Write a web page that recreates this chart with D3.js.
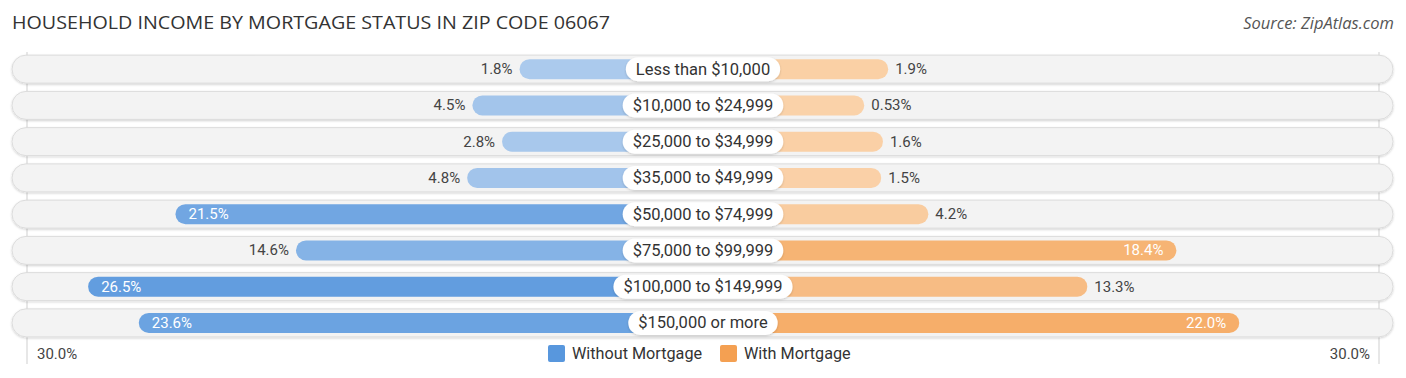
<!DOCTYPE html>
<html><head><meta charset="utf-8">
<script src="https://cdn.jsdelivr.net/npm/d3@7"></script>
<style>body{margin:0;background:#fff;} svg{display:block;}</style>
</head><body>
<svg id="chart" width="1406" height="378"></svg>
<script>
const categories = ["Less than $10,000","$10,000 to $24,999","$25,000 to $34,999","$35,000 to $49,999","$50,000 to $74,999","$75,000 to $99,999","$100,000 to $149,999","$150,000 or more"];
const withoutMortgage = [1.8, 4.5, 2.8, 4.8, 21.5, 14.6, 26.5, 23.6];
const withMortgage = [1.9, 0.53, 1.6, 1.5, 4.2, 18.4, 13.3, 22.0];
const withoutLabels = ["1.8%","4.5%","2.8%","4.8%","21.5%","14.6%","26.5%","23.6%"];
const withLabels = ["1.9%","0.53%","1.6%","1.5%","4.2%","18.4%","13.3%","22.0%"];
const axisLabels = ["30.0%","30.0%"];
const legendLabels = ["Without Mortgage","With Mortgage"];
const title = "HOUSEHOLD INCOME BY MORTGAGE STATUS IN ZIP CODE 06067";
const source = "Source: ZipAtlas.com";

const svg = d3.select("#chart");
const cx = 703;
const len = d3.scaleLinear().domain([0, 30]).range([152, 676]);
const y = d3.scaleBand().domain(categories).range([51, 341]).paddingInner(0);
const rowC = c => y(c) + y.bandwidth() / 2;
const blueC = d3.scaleLinear().domain([0, 30]).range(["#b0cdee", "#5897dd"]);
const orangeC = d3.scaleLinear().domain([0, 30]).range(["#fad3ab", "#f4a052"]);

const defs = svg.append("defs");
const f = defs.append("filter").attr("id","sh").attr("x","-5%").attr("y","-50%").attr("width","110%").attr("height","200%");
f.append("feDropShadow").attr("dx",0).attr("dy",1).attr("stdDeviation",1).attr("flood-color","#000").attr("flood-opacity",0.18);

// title & source
svg.append("text").attr("x", 12).attr("y", 29).text(title)
  .attr("font-family","'Open Sans', sans-serif").attr("font-size",19).attr("fill","#333")
  .attr("textLength", 598).attr("lengthAdjust","spacingAndGlyphs");
svg.append("text").attr("x", 1394).attr("y", 29).attr("text-anchor","end").text(source)
  .attr("font-family","'Open Sans', sans-serif").attr("font-style","italic").attr("font-size",16.5).attr("fill","#555");

// gridlines
[-1, 1].forEach(s => {
  svg.append("line").attr("x1", cx + s*len(30)).attr("x2", cx + s*len(30))
    .attr("y1", 52).attr("y2", 364).attr("stroke","#cfcfcf").attr("stroke-width",1);
});

const rows = svg.selectAll("g.row").data(categories).join("g").attr("class","row");
// background pills
rows.append("rect").attr("x", 12).attr("width", 1381).attr("y", c => rowC(c) - 14).attr("height", 28)
  .attr("rx", 14).attr("fill","#f3f3f3").attr("stroke","#dcdcdc").attr("stroke-width",1).attr("filter","url(#sh)");

const font = "Roboto, sans-serif";
// left bars
rows.append("rect").attr("x", (c,i) => cx - len(withoutMortgage[i])).attr("width", (c,i) => len(withoutMortgage[i]))
  .attr("y", c => rowC(c) - 10).attr("height", 20).attr("rx", 10)
  .attr("fill", (c,i) => blueC(withoutMortgage[i]));
// right bars
rows.append("rect").attr("x", cx).attr("width", (c,i) => len(withMortgage[i]))
  .attr("y", c => rowC(c) - 10).attr("height", 20).attr("rx", 10)
  .attr("fill", (c,i) => orangeC(withMortgage[i]));

const inside = v => v > 16;
rows.append("text")
  .attr("x", (c,i) => inside(withoutMortgage[i]) ? cx - len(withoutMortgage[i]) + 13 : cx - len(withoutMortgage[i]) - 7)
  .attr("text-anchor", (c,i) => inside(withoutMortgage[i]) ? "start" : "end")
  .attr("y", c => rowC(c) + 5).attr("font-family", font).attr("font-size", 15)
  .attr("fill", (c,i) => inside(withoutMortgage[i]) ? "#fff" : "#444")
  .text((c,i) => withoutLabels[i]);
rows.append("text")
  .attr("x", (c,i) => inside(withMortgage[i]) ? cx + len(withMortgage[i]) - 13 : cx + len(withMortgage[i]) + 7)
  .attr("text-anchor", (c,i) => inside(withMortgage[i]) ? "end" : "start")
  .attr("y", c => rowC(c) + 5).attr("font-family", font).attr("font-size", 15)
  .attr("fill", (c,i) => inside(withMortgage[i]) ? "#fff" : "#444")
  .text((c,i) => withLabels[i]);

// center labels
rows.each(function(c) {
  const g = d3.select(this);
  const t = g.append("text").attr("x", cx).attr("y", rowC(c) + 5.5).attr("text-anchor","middle")
    .attr("font-family", font).attr("font-size", 16.5).attr("fill","#333").text(c);
  const w = t.node().getComputedTextLength();
  g.insert("rect", function(){ return t.node(); })
    .attr("x", cx - w/2 - 10).attr("width", w + 20).attr("y", rowC(c) - 12).attr("height", 24)
    .attr("rx", 12).attr("fill","#fff").attr("filter","url(#sh)");
});

// axis labels
svg.append("text").attr("x", 37).attr("y", 359).attr("font-family", font).attr("font-size",15).attr("fill","#444").text(axisLabels[0]);
svg.append("text").attr("x", 1370).attr("y", 359).attr("text-anchor","end").attr("font-family", font).attr("font-size",15).attr("fill","#444").text(axisLabels[1]);

// legend
const legendX = [548, 720];
const legendCol = ["#5897dd", "#f4a052"];
legendLabels.forEach((l, i) => {
  svg.append("rect").attr("x", legendX[i]).attr("y", 345).attr("width", 17).attr("height", 17).attr("rx", 2).attr("fill", legendCol[i]);
  svg.append("text").attr("x", legendX[i] + 24).attr("y", 359).attr("font-family", font).attr("font-size", 16.2).attr("fill","#333").text(l);
});
</script>
</body></html>
